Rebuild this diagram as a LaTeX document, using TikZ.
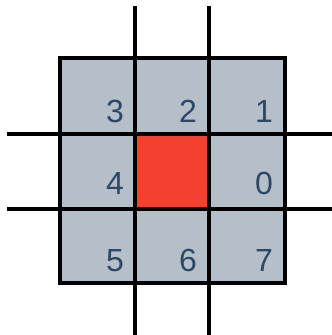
\documentclass[tikz,border=0pt]{standalone}
\usepackage{fontspec}
\setmainfont{Liberation Sans}
\definecolor{cellgray}{HTML}{B5BFC9}
\definecolor{cellred}{HTML}{F4412F}
\definecolor{digit}{HTML}{2E4764}
\begin{document}
\begin{tikzpicture}[x=1pt,y=-1pt,
  gridline/.style={line width=3.5pt,black},
  num/.style={anchor=base east,inner sep=0pt,text=digit,font=\fontsize{32}{32}\selectfont}]
\useasboundingbox (0,0) rectangle (332,335);
% cells
\fill[cellgray] (60,58) rectangle (285,283);
\fill[cellred] (135,134) rectangle (209,209);
% outer border
\draw[gridline] (60,58) rectangle (285,283);
% grid lines
\coordinate (vt1) at (135,6); \coordinate (vb1) at (135,335);
\coordinate (vt2) at (209,6); \coordinate (vb2) at (209,335);
\coordinate (hl1) at (7,134); \coordinate (hr1) at (332,134);
\coordinate (hl2) at (7,209); \coordinate (hr2) at (332,209);
\draw[gridline] (vt1) -- (vb1);
\draw[gridline] (vt2) -- (vb2);
\draw[gridline] (hl1) -- (hr1);
\draw[gridline] (hl2) -- (hr2);
% numbers
\node[num] (n3) at (124,122) {3};
\node[num] (n2) at (197,122) {2};
\node[num] (n1) at (273,122) {1};
\node[num] (n4) at (124,194) {4};
\node[num] (n0) at (273,194) {0};
\node[num] (n5) at (124,271) {5};
\node[num] (n6) at (197,271) {6};
\node[num] (n7) at (273,271) {7};
\end{tikzpicture}
\end{document}
